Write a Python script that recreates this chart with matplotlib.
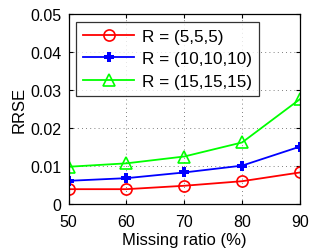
import numpy as np
import matplotlib.pyplot as plt

plt.rcParams['font.family'] = ['Liberation Sans', 'DejaVu Sans']

ratio = [50, 60, 70, 80, 90]
rrse_5 = [0.0039, 0.0039, 0.0048, 0.0060, 0.0083]
rrse_10 = [0.0061, 0.0068, 0.0083, 0.0101, 0.0151]
rrse_15 = [0.0098, 0.0107, 0.0125, 0.0162, 0.0276]
labels = ['R = (5,5,5)', 'R = (10,10,10)', 'R = (15,15,15)']

fig = plt.figure(figsize=(3.32, 2.51), dpi=100)
ax = fig.add_axes([68.5/332, 1 - 205/251, (300-68.5)/332, (205-15)/251])

ax.plot(ratio, rrse_5, color='#ff0000', marker='o', ms=8, mfc='none', mew=1.2, lw=1.3, label=labels[0])
ax.plot(ratio, rrse_10, color='#0000ff', marker='P', ms=7, mew=0, lw=1.3, label=labels[1])
ax.plot(ratio, rrse_15, color='#00ff00', marker='^', ms=9, mfc='none', mew=1.2, lw=1.3, label=labels[2])

ax.set_xlim(50, 90)
ax.set_ylim(0, 0.05)
ax.set_xticks(ratio)
ax.set_yticks([0, 0.01, 0.02, 0.03, 0.04, 0.05])
ax.set_yticklabels(['0', '0.01', '0.02', '0.03', '0.04', '0.05'])
ax.grid(True, linestyle=(0, (1, 4)), color='#555555', lw=0.6)
ax.tick_params(direction='in', length=3, labelsize=11.5, top=True, right=True, width=0.8)
ax.tick_params(axis='x', pad=7)
ax.tick_params(axis='y', pad=5)
ax.set_xlabel('Missing ratio (%)', fontsize=12, labelpad=2)
ax.set_ylabel('RRSE', fontsize=12, labelpad=3)
for s in ax.spines.values():
    s.set_linewidth(0.9)

leg = ax.legend(loc='upper left', fontsize=12.3, handlelength=3.0, frameon=True,
                fancybox=False, edgecolor='k', borderaxespad=0.45, labelspacing=0.45,
                borderpad=0.4, handletextpad=0.45)
leg.get_frame().set_linewidth(0.9)

fig.savefig('out.png', dpi=100)
